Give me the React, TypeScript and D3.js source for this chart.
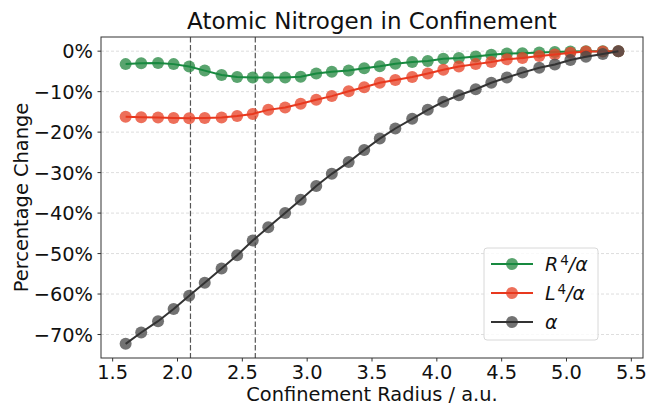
import * as d3 from "d3";

// confinement radius (a.u.)
const radius = [
  1.6, 1.72, 1.85, 1.97, 2.09, 2.21, 2.34, 2.46, 2.58, 2.7, 2.83, 2.95, 3.07, 3.19, 3.32, 3.44,
  3.56, 3.68, 3.81, 3.93, 4.05, 4.17, 4.3, 4.42, 4.54, 4.66, 4.79, 4.91, 5.03, 5.15, 5.28, 5.4,
];

// percentage change per series
const r4Alpha = [
  -3.2, -3.0, -2.9, -3.2, -3.8, -4.8, -5.9, -6.4, -6.5, -6.5, -6.5, -6.3, -5.5, -5.1, -4.8, -4.2,
  -3.7, -3.1, -2.7, -2.4, -1.9, -1.7, -1.3, -0.9, -0.6, -0.5, -0.3, -0.2, -0.1, 0.0, 0.0, 0.0,
];
const l4Alpha = [
  -16.2, -16.3, -16.4, -16.5, -16.6, -16.5, -16.4, -16.0, -15.5, -14.5, -13.9, -13.0, -12.0, -11.1, -9.9, -8.9,
  -7.8, -7.1, -6.4, -5.5, -4.6, -3.8, -3.2, -2.7, -2.0, -1.7, -1.2, -0.8, -0.4, -0.1, -0.1, 0.0,
];
const alphaVals = [
  -72.3, -69.5, -66.7, -63.7, -60.4, -57.2, -53.7, -50.4, -46.8, -43.5, -40.0, -36.7, -33.3, -30.3, -27.4, -24.4,
  -21.6, -19.1, -16.7, -14.5, -12.5, -10.9, -9.4, -7.8, -6.5, -5.3, -4.1, -3.3, -2.2, -1.4, -0.7, 0.0,
];

const xTicks = [1.5, 2.0, 2.5, 3.0, 3.5, 4.0, 4.5, 5.0, 5.5];
const yTicks = [0, -10, -20, -30, -40, -50, -60, -70];
const markerLines = [2.1, 2.6];

const series = [
  { key: "R", sup: "4", values: r4Alpha, line: "#17893f", marker: "#2a8a45" },
  { key: "L", sup: "4", values: l4Alpha, line: "#e8381e", marker: "#e8472b" },
  { key: "", sup: "", values: alphaVals, line: "#333333", marker: "#4a4a4a" },
];

const W = 650;
const H = 406;
const m = { left: 101, right: 643, top: 37, bottom: 358 };
const FONT = "DejaVu Sans, sans-serif";

export default function App() {
  const x = d3.scaleLinear().domain([1.41, 5.59]).range([m.left, m.right]);
  const y = d3.scaleLinear().domain([-75.8, 3.5]).range([m.bottom, m.top]);

  const line = d3
    .line<number>()
    .x((_, i) => x(radius[i]))
    .y((d) => y(d));

  const fmtY = (d: number) => (d < 0 ? "\u2212" + Math.abs(d) : String(d)) + "%";

  const legX = 484;
  const legY = 248;

  return (
    <svg
      width={W}
      height={H}
      style={{ position: "absolute", left: 0, top: 0, fontFamily: FONT }}
    >
      <rect width={W} height={H} fill="#fff" />

      {/* grid */}
      {yTicks.map((t) => (
        <line
          key={"g" + t}
          x1={m.left}
          x2={m.right}
          y1={y(t)}
          y2={y(t)}
          stroke="#d4d4d4"
          strokeWidth={0.8}
          strokeDasharray="3,2"
        />
      ))}

      {/* reference radii */}
      {markerLines.map((v) => (
        <line
          key={"v" + v}
          x1={x(v)}
          x2={x(v)}
          y1={m.top}
          y2={m.bottom}
          stroke="#555"
          strokeWidth={1.2}
          strokeDasharray="5.5,2.4"
        />
      ))}

      {/* series */}
      {series.map((s) => (
        <g key={"s" + s.key + s.line}>
          {s.values.map((v, i) => (
            <circle
              key={i}
              cx={x(radius[i])}
              cy={y(v)}
              r={6}
              fill={s.marker}
              fillOpacity={0.78}
            />
          ))}
          <path d={line(s.values) ?? ""} fill="none" stroke={s.line} strokeWidth={2} />
        </g>
      ))}

      {/* spines */}
      <rect
        x={m.left}
        y={m.top}
        width={m.right - m.left}
        height={m.bottom - m.top}
        fill="none"
        stroke="#333"
        strokeWidth={1}
      />

      {/* x axis */}
      {xTicks.map((t) => (
        <g key={"x" + t}>
          <line x1={x(t)} x2={x(t)} y1={m.bottom} y2={m.bottom + 3.5} stroke="#333" />
          <text x={x(t)} y={379} textAnchor="middle" fontSize={19.4} fill="#111">
            {t.toFixed(1)}
          </text>
        </g>
      ))}
      <text x={(m.left + m.right) / 2} y={401} textAnchor="middle" fontSize={19.4} fill="#111">
        Confinement Radius / a.u.
      </text>

      {/* y axis */}
      {yTicks.map((t) => (
        <g key={"y" + t}>
          <line x1={m.left - 3.5} x2={m.left} y1={y(t)} y2={y(t)} stroke="#333" />
          <text
            x={m.left - 8}
            y={y(t)}
            dy="0.36em"
            textAnchor="end"
            fontSize={19.4}
            fill="#111"
          >
            {fmtY(t)}
          </text>
        </g>
      ))}
      <text
        transform={`translate(28,${(m.top + m.bottom) / 2}) rotate(-90)`}
        textAnchor="middle"
        fontSize={19.4}
        fill="#111"
      >
        Percentage Change
      </text>

      {/* title */}
      <text x={(m.left + m.right) / 2} y={29} textAnchor="middle" fontSize={23} fill="#111">
        Atomic Nitrogen in Confinement
      </text>

      {/* legend */}
      <rect
        x={legX}
        y={legY}
        width={114}
        height={92}
        rx={3}
        fill="#fff"
        fillOpacity={0.8}
        stroke="#d8d8d8"
      />
      {series.map((s, i) => {
        const cy = legY + 16 + i * 29;
        return (
          <g key={"l" + i}>
            <line x1={legX + 7} x2={legX + 49} y1={cy} y2={cy} stroke={s.line} strokeWidth={2} />
            <circle cx={legX + 28} cy={cy} r={6} fill={s.marker} fillOpacity={0.78} />
            <line x1={legX + 7} x2={legX + 49} y1={cy} y2={cy} stroke={s.line} strokeWidth={2} />
            <text x={legX + 61} y={cy} dy="0.36em" fontSize={19} fontStyle="italic" fill="#111">
              {s.key ? (
                <>
                  {s.key}
                  <tspan dx="2" dy="-0.45em" fontSize={13.5} fontStyle="normal">
                    {s.sup}
                  </tspan>
                  <tspan dy="0.32em">/α</tspan>
                </>
              ) : (
                "α"
              )}
            </text>
          </g>
        );
      })}
    </svg>
  );
}
